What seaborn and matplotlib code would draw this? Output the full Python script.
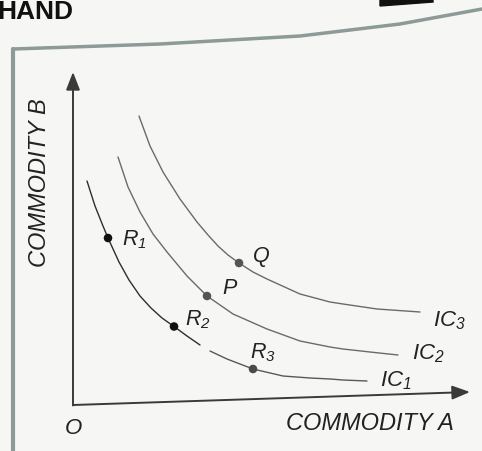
import matplotlib
matplotlib.use("Agg")
import matplotlib.pyplot as plt
import seaborn as sns
import pandas as pd
from matplotlib.lines import Line2D
from matplotlib.patches import Polygon

# Indifference curves (A = commodity A, B = commodity B)
ic1_a_x = [1.4, 2.2, 3.0, 3.5, 4.6, 5.6, 6.7, 7.8, 8.9, 10.1, 11.4, 12.7]
ic1_a_y = [22.3, 19.8, 17.8, 16.6, 14.2, 12.4, 10.8, 9.6, 8.6, 7.75, 6.8, 5.9]
ic1_b_x = [13.7, 15.4, 18.0, 21.0, 23.7, 25.7, 27.0, 29.4]
ic1_b_y = [5.3, 4.5, 3.5, 2.8, 2.6, 2.5, 2.4, 2.3]
ic2_x = [4.5, 5.5, 6.7, 8.0, 9.4, 11.4, 13.4, 16.0, 19.4, 22.7, 25.7, 27.0, 29.7, 32.5]
ic2_y = [24.7, 21.7, 19.2, 17.0, 15.2, 12.8, 10.8, 9.0, 7.5, 6.3, 5.7, 5.5, 5.2, 4.9]
ic3_x = [6.6, 7.7, 9.0, 10.7, 12.4, 13.5, 14.5, 15.5, 16.6, 18.0, 19.4, 22.7, 25.7, 27.0, 30.4, 34.7]
ic3_y = [28.8, 25.8, 23.2, 20.5, 18.2, 16.9, 15.8, 14.9, 14.1, 13.2, 12.5, 11.0, 10.2, 10.0, 9.5, 9.2]

# combinations marked on the curves
point_names = ["R1", "R2", "R3", "P", "Q"]
point_x = [3.5, 10.1, 18.0, 13.4, 16.6]
point_y = [16.6, 7.75, 3.5, 10.8, 14.1]
point_labels = ["$R_1$", "$R_2$", "$R_3$", "$P$", "$Q$"]
label_x = [6.1, 12.5, 19.0, 15.7, 18.8]
label_y = [16.5, 8.5, 5.2, 11.7, 14.8]

curve_labels = ["$IC_1$", "$IC_2$", "$IC_3$"]
curve_label_x = [32.3, 35.5, 37.6]
curve_label_y = [2.4, 5.1, 8.4]

segments = {"IC1a": (ic1_a_x, ic1_a_y), "IC1b": (ic1_b_x, ic1_b_y),
            "IC2": (ic2_x, ic2_y), "IC3": (ic3_x, ic3_y)}
curves = pd.concat([pd.DataFrame({"A": xs, "B": ys, "seg": k})
                    for k, (xs, ys) in segments.items()], ignore_index=True)
points = pd.DataFrame({"name": point_names, "A": point_x, "B": point_y})

sns.set_theme(style="white")
plt.rcParams["font.family"] = ["Liberation Sans", "DejaVu Sans"]
plt.rcParams["mathtext.fontset"] = "custom"
plt.rcParams["mathtext.it"] = "Liberation Sans:italic"
plt.rcParams["mathtext.rm"] = "Liberation Sans:italic"

paper = "#f6f7f5"
fig = plt.figure(figsize=(4.82, 4.52), dpi=100, facecolor=paper)
ax = fig.add_axes([0, 0, 1, 1])
ax.set_facecolor(paper)
ax.set_xlim(-7.3, 40.9)
ax.set_ylim(-4.7, 40.5)
ax.axis("off")

seg_colors = {"IC1a": "#2e2e2e", "IC1b": "#585858", "IC2": "#6a6a6a", "IC3": "#6a6a6a"}
for k, grp in curves.groupby("seg"):
    sns.lineplot(data=grp, x="A", y="B", sort=False, color=seg_colors[k],
                 linewidth=1.0, ax=ax, legend=False, solid_joinstyle="round")

dot_colors = {"R1": "#111111", "R2": "#111111", "R3": "#4a4a4a", "P": "#555555", "Q": "#555555"}
sns.scatterplot(data=points, x="A", y="B", hue="name", palette=dot_colors,
                s=38, edgecolor="none", ax=ax, legend=False, zorder=5)

for t, x, y in zip(point_labels, label_x, label_y):
    ax.text(x, y, t, fontsize=15.5, color="#222222", ha="center", va="center")
for t, x, y in zip(curve_labels, curve_label_x, curve_label_y):
    ax.text(x, y, t, fontsize=16, color="#222222", ha="center", va="center")

# axes with arrows
arrow = dict(arrowstyle="-|>,head_length=0.9,head_width=0.35", color="#3a3a3a",
             lw=1.4, shrinkA=0, shrinkB=0)
ax.annotate("", xy=(39.7, 1.2), xytext=(0, -0.1), arrowprops=arrow)
ax.annotate("", xy=(0, 33.2), xytext=(0, -0.15), arrowprops=arrow)

ax.text(0, -2.4, "O", fontsize=16, style="italic", color="#222222", ha="center", va="center")
ax.text(29.7, -1.9, "COMMODITY A", fontsize=17, style="italic", color="#222222",
        ha="center", va="center")
ax.text(-3.3, 22.2, "COMMODITY B", fontsize=17, style="italic", color="#222222",
        ha="center", va="center", rotation=90)

# page decoration from the book scan
fig.add_artist(Line2D([13 / 482, 160 / 482, 300 / 482, 400 / 482, 1.0],
                      [1 - 50 / 452, 1 - 45 / 452, 1 - 37 / 452, 1 - 25 / 452, 1 - 10 / 452],
                      color="#8d9a98", lw=2.5, transform=fig.transFigure))
fig.add_artist(Line2D([13 / 482, 13 / 482], [1 - 50 / 452, 0], color="#8d9a98", lw=3,
                      transform=fig.transFigure))
fig.add_artist(Polygon([[380 / 482, 1 - 7 / 452], [433 / 482, 1 - 3 / 452],
                        [433 / 482, 1.0], [380 / 482, 1.0]],
                       closed=True, color="#111111", transform=fig.transFigure))
fig.text(-0.005, 1.0, "HAND", fontsize=19, fontweight="bold", color="#111111",
         ha="left", va="top", family="Liberation Sans")

fig.savefig("out.png", dpi=100, facecolor=paper)
